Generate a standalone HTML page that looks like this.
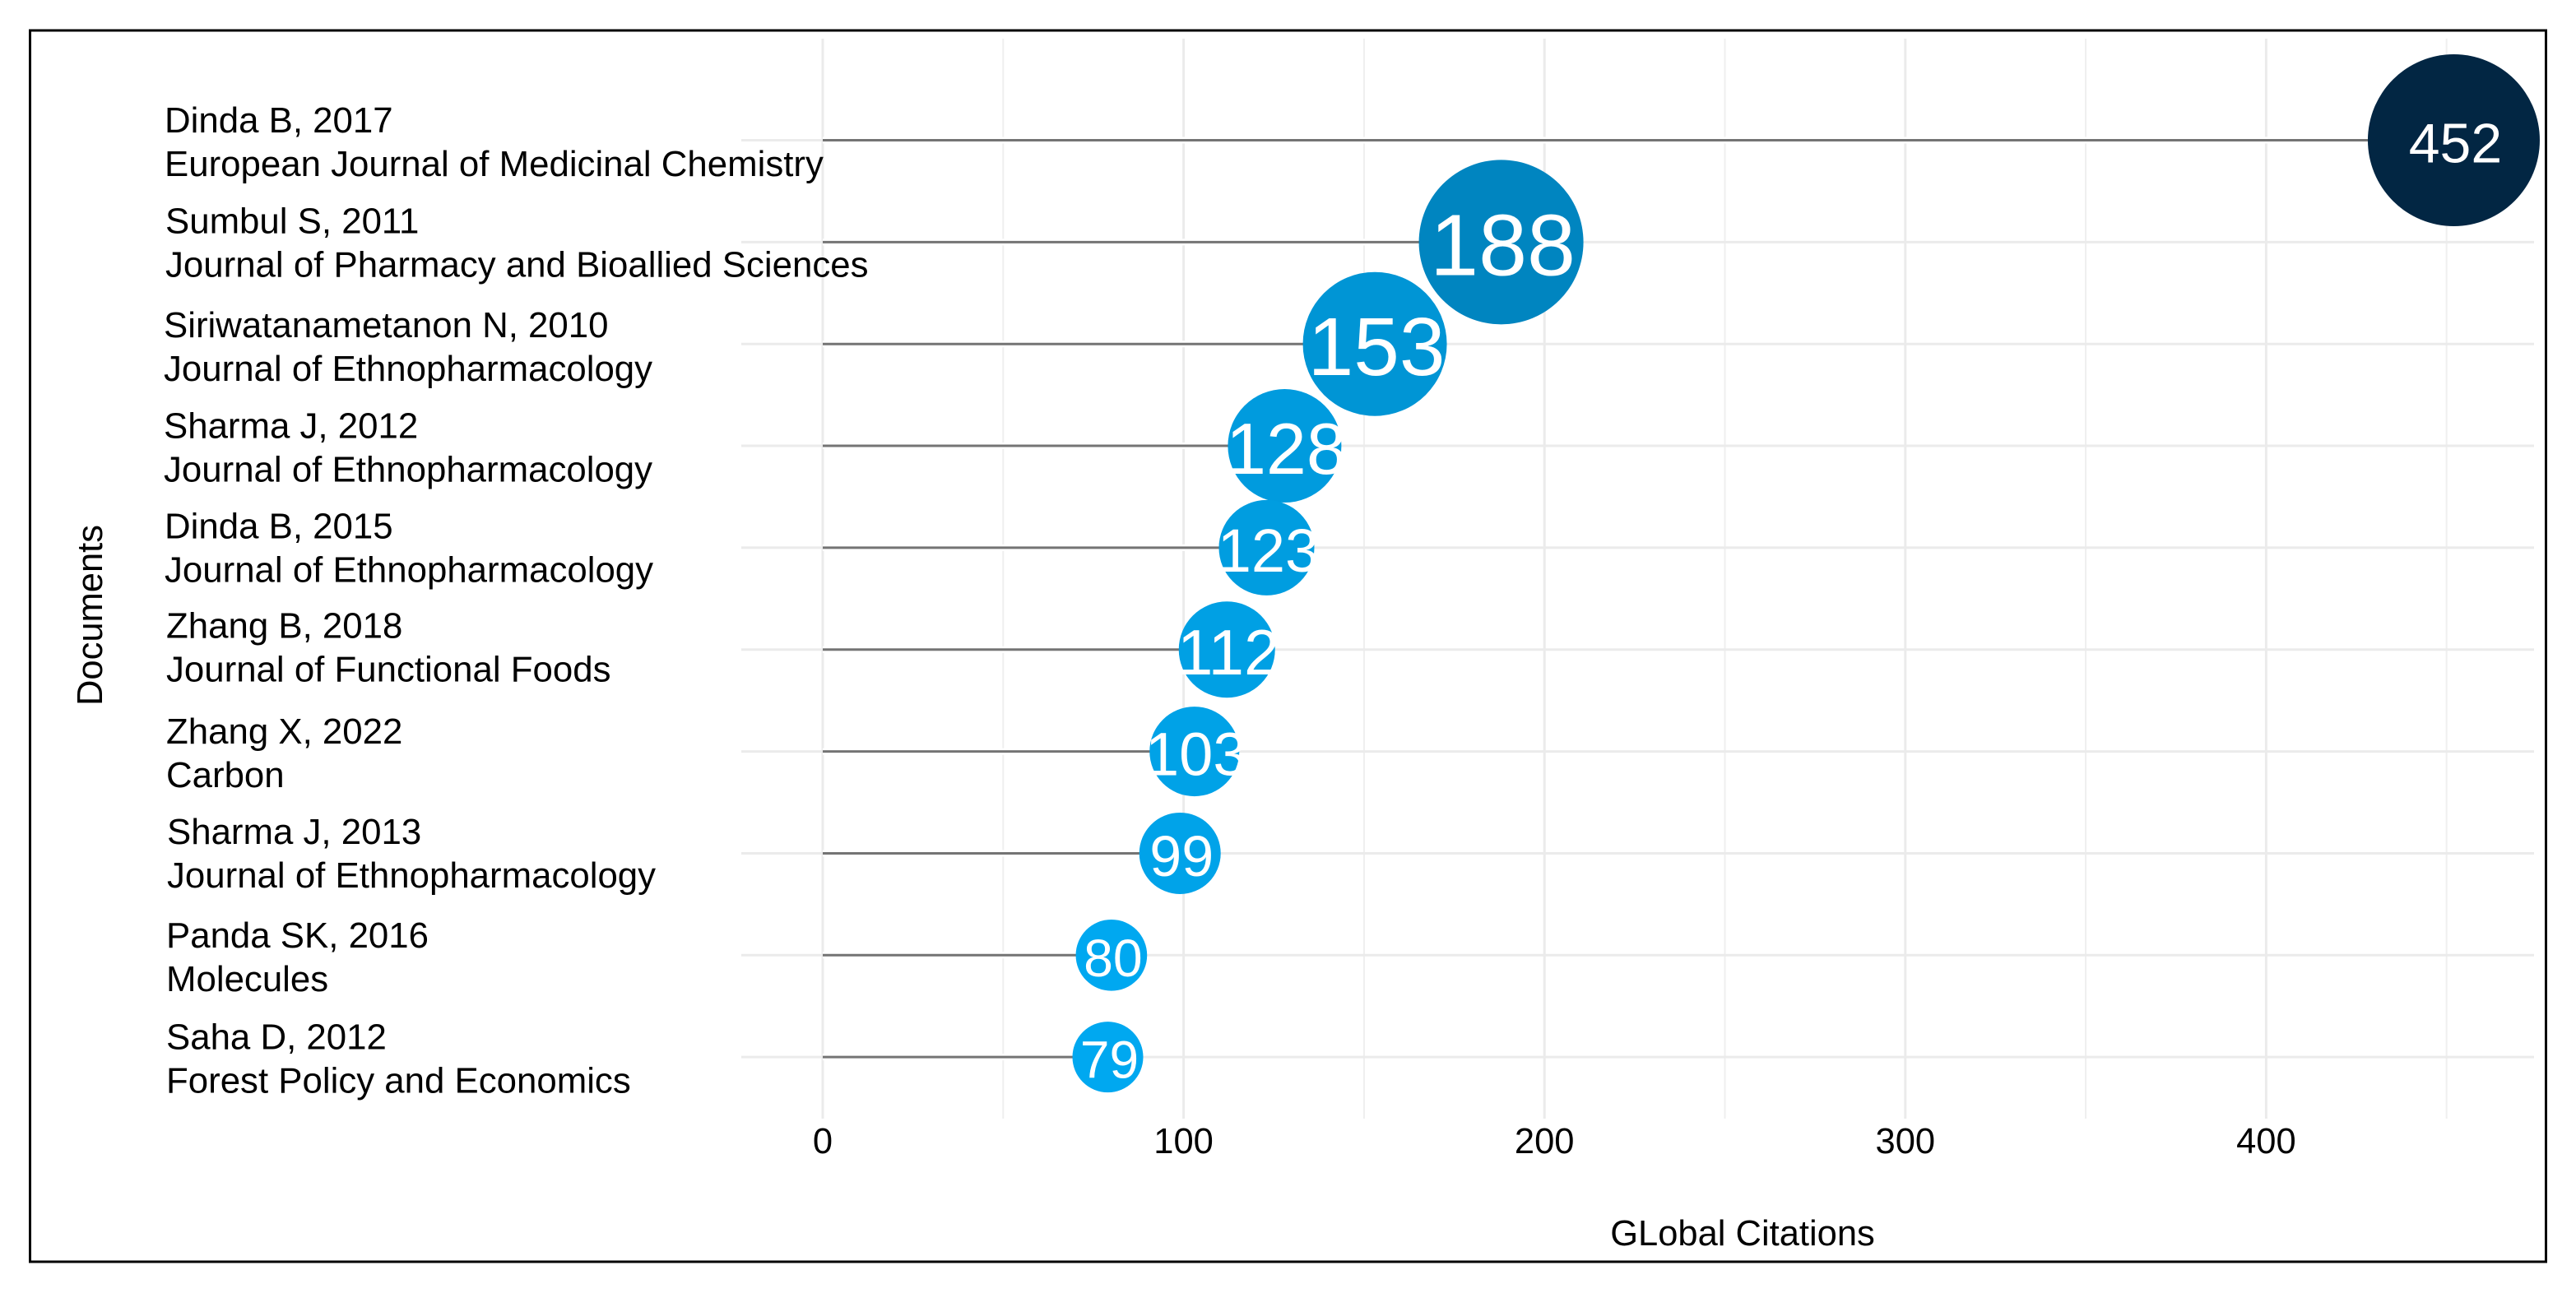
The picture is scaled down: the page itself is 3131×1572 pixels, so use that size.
<!DOCTYPE html>
<html lang="en">
<head>
<meta charset="utf-8">
<title>Most cited documents by global citations</title>
<style>
  html, body { margin: 0; padding: 0; background: #ffffff; }
  body { width: 3131px; height: 1572px; overflow: hidden; }
  svg { display: block; }
  text { font-family: "Liberation Sans", Arial, sans-serif; }
</style>
</head>
<body>
<svg id="chart" xmlns="http://www.w3.org/2000/svg" width="3131" height="1572" viewBox="0 0 3131 1572">
  <rect x="0" y="0" width="3131" height="1572" fill="#ffffff"/>
  <rect x="36.5" y="37" width="3058" height="1497" fill="none" stroke="#000000" stroke-width="3"/>
  <g id="grid"></g>
  <g id="stems"></g>
  <g id="bubbles"></g>
  <g id="yticks"></g>
  <g id="xticks"></g>
  <text transform="translate(124 748) rotate(-90)" text-anchor="middle" font-size="43.5" fill="#000000">Documents</text>
  <text x="2118" y="1514" text-anchor="middle" font-size="43.5" fill="#000000">GLobal Citations</text>
</svg>
<script>
const documents = ["Dinda B, 2017", "Sumbul S, 2011", "Siriwatanametanon N, 2010", "Sharma J, 2012", "Dinda B, 2015", "Zhang B, 2018", "Zhang X, 2022", "Sharma J, 2013", "Panda SK, 2016", "Saha D, 2012"];
const sources = ["European Journal of Medicinal Chemistry", "Journal of Pharmacy and Bioallied Sciences", "Journal of Ethnopharmacology", "Journal of Ethnopharmacology", "Journal of Ethnopharmacology", "Journal of Functional Foods", "Carbon", "Journal of Ethnopharmacology", "Molecules", "Forest Policy and Economics"];
const citations = [452, 188, 153, 128, 123, 112, 103, 99, 80, 79];
const xTickValues = [0, 100, 200, 300, 400];
const xMinorTickValues = [50, 150, 250, 350, 450];

const SVG_NS = "http://www.w3.org/2000/svg";

function xScale(v) {
  return 1000 + 4.386 * v;
}
function yScale(i) {
  return 170.5 + 123.85 * i;
}
function piecewise(knotsIn, knotsOut, v) {
  if (v <= knotsIn[0]) return knotsOut[0];
  for (let k = 1; k < knotsIn.length; k++) {
    if (v <= knotsIn[k]) {
      const t = (v - knotsIn[k - 1]) / (knotsIn[k] - knotsIn[k - 1]);
      return knotsOut[k - 1] + t * (knotsOut[k] - knotsOut[k - 1]);
    }
  }
  return knotsOut[knotsOut.length - 1];
}
function radiusScale(v) {
  return piecewise([79, 99, 103, 112, 123, 128, 153, 188, 452], [43, 49.5, 54.5, 58.5, 58, 69, 87.5, 100, 104.5], v);
}
function labelSizeScale(v) {
  return piecewise([79, 99, 103, 112, 123, 128, 153, 188, 300, 452], [64, 70, 74, 78, 74, 88, 100, 106, 90, 68], v);
}
function colorScale(v) {
  const stops = [79, 153, 188, 452];
  const r = Math.round(piecewise(stops, [0, 0, 0, 2], v));
  const g = Math.round(piecewise(stops, [168, 149, 133, 38], v));
  const b = Math.round(piecewise(stops, [240, 213, 192, 67], v));
  return "rgb(" + r + "," + g + "," + b + ")";
}
function labelNudgeX(i) {
  return [-1, 0, -2, -2, -1, 1, 1, 2, 1, 1][i];
}
function labelNudgeY(i) {
  return [0, -1.5, 1.5, 0, -2, -5, 0, -2, 0, 0][i];
}
function make(tag, parentId) {
  const el = document.createElementNS(SVG_NS, tag);
  document.getElementById(parentId).appendChild(el);
  return el;
}
function setAll(el, props) {
  Object.keys(props).forEach(function (key) { el.setAttribute(key, props[key]); });
}

xMinorTickValues.forEach(function (tick) {
  const line = make("line", "grid");
  
  
  setAll(line, { x1: xScale(tick), x2: xScale(tick), y1: 47, y2: 1360, stroke: "#efefef", "stroke-width": 2 });
});
xTickValues.forEach(function (tick) {
  const line = make("line", "grid");
  
  
  setAll(line, { x1: xScale(tick), x2: xScale(tick), y1: 47, y2: 1360, stroke: "#ebebeb", "stroke-width": 3 });

  const label = make("text", "xticks");
  
  
  setAll(label, { x: xScale(tick), y: 1402, "text-anchor": "middle", "font-size": 43.5, fill: "#000000" });
  label.textContent = String(tick);
});

citations.forEach(function (value, i) {
  const y = yScale(i);

  const grid = make("line", "grid");
  
  
  setAll(grid, { x1: 901, x2: 3080, y1: y, y2: y, stroke: "#ebebeb", "stroke-width": 3 });

  const halo = make("line", "stems");
  
  
  setAll(halo, { x1: xScale(0), x2: xScale(value), y1: y, y2: y, stroke: "#ffffff", "stroke-width": 8 });

  const stem = make("line", "stems");
  
  
  setAll(stem, { x1: xScale(0), x2: xScale(value), y1: y, y2: y, stroke: "#747474", "stroke-width": 3 });

  const bubble = make("circle", "bubbles");
  
  
  setAll(bubble, { cx: xScale(value), cy: y, r: radiusScale(value), fill: colorScale(value) });

  const size = labelSizeScale(value);
  const valueLabel = make("text", "bubbles");
  
  
  setAll(valueLabel, { x: xScale(value) + 2, y: y + 3 + 0.35 * size, "text-anchor": "middle", "font-size": size, fill: "#ffffff" });
  valueLabel.textContent = String(value);

  const docLabel = make("text", "yticks");
  
  
  setAll(docLabel, { x: 201 + labelNudgeX(i), y: y - 9.5 + labelNudgeY(i), "font-size": 43.8, fill: "#000000" });
  docLabel.textContent = documents[i];

  const sourceLabel = make("text", "yticks");
  
  
  setAll(sourceLabel, { x: 201 + labelNudgeX(i), y: y + 43.5 + labelNudgeY(i), "font-size": 43.8, fill: "#000000" });
  sourceLabel.textContent = sources[i];
});
</script>
</body>
</html>
